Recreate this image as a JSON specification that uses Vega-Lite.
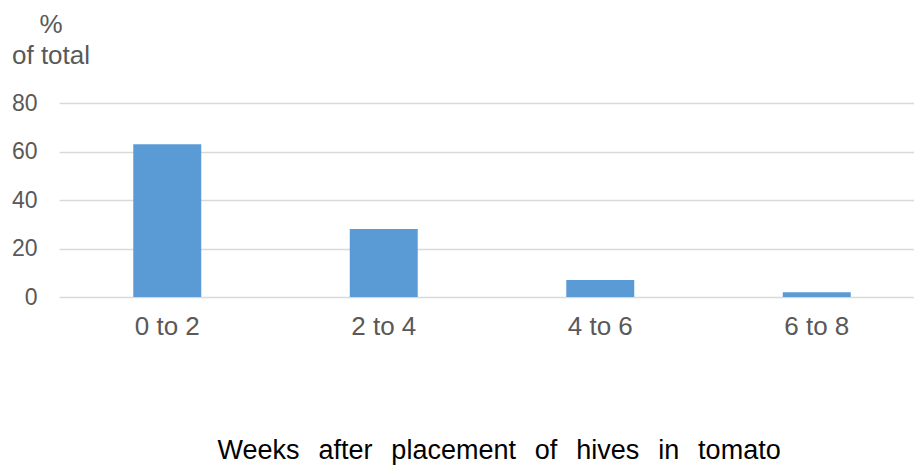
{
  "$schema": "https://vega.github.io/schema/vega-lite/v6.json",
  "width": 866,
  "height": 194,
  "autosize": {"type": "none"},
  "padding": {"left": 59, "top": 103, "right": 0, "bottom": 170},
  "background": "white",
  "config": {
    "view": {"stroke": null},
    "font": "Liberation Sans"
  },
  "data": {
    "values": [
      {"weeks": "0 to 2", "pct": 63},
      {"weeks": "2 to 4", "pct": 28},
      {"weeks": "4 to 6", "pct": 7},
      {"weeks": "6 to 8", "pct": 2}
    ]
  },
  "mark": {"type": "bar", "color": "#5B9BD5"},
  "encoding": {
    "x": {
      "field": "weeks",
      "type": "nominal",
      "sort": null,
      "scale": {"paddingInner": 0.686, "paddingOuter": 0.343},
      "axis": {
        "title": "Weeks\u2002\u2009after\u2002\u2009placement\u2002\u2009of\u2002\u2009hives\u2002\u2009in\u2002\u2009tomato",
        "titleFont": "Liberation Sans",
        "titleFontSize": 27,
        "titleFontWeight": "normal",
        "titleColor": "#000000",
        "titleAnchor": "start",
        "titleX": 158,
        "titleY": 161,
        "titleBaseline": "alphabetic",
        "labelAngle": 0,
        "labelFontSize": 26,
        "labelColor": "#595959",
        "labelPadding": 16,
        "ticks": false,
        "tickSize": 0,
        "domain": false
      }
    },
    "y": {
      "field": "pct",
      "type": "quantitative",
      "scale": {"domain": [0, 80]},
      "axis": {
        "values": [0, 20, 40, 60, 80],
        "title": ["%", "of total"],
        "titleFont": "Liberation Sans",
        "titleFontSize": 26,
        "titleFontWeight": "normal",
        "titleColor": "#595959",
        "titleAngle": 0,
        "titleAlign": "center",
        "titleBaseline": "alphabetic",
        "titleLineHeight": 31,
        "titleX": -8.5,
        "titleY": -71,
        "labelFontSize": 23,
        "labelColor": "#595959",
        "labelPadding": 22,
        "ticks": false,
        "tickSize": 0,
        "domain": false,
        "grid": true,
        "gridColor": "#D9D9D9",
        "gridWidth": 1.5
      }
    }
  }
}
